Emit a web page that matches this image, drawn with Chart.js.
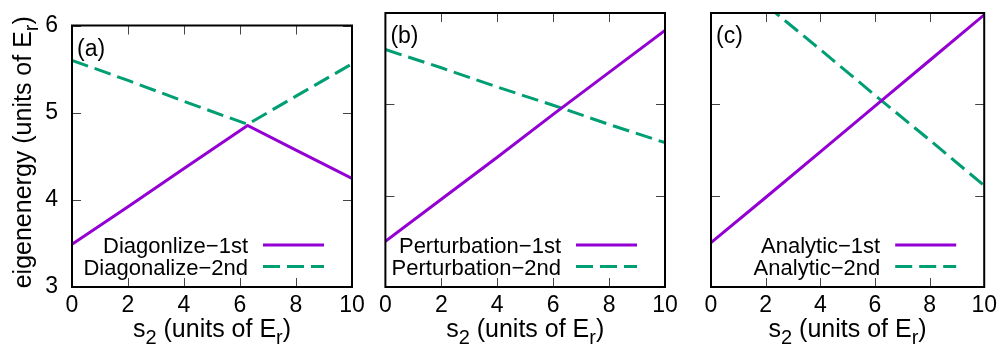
<!DOCTYPE html>
<html>
<head>
<meta charset="utf-8">
<script src="https://cdn.jsdelivr.net/npm/chart.js@4.4.1/dist/chart.umd.min.js"></script>
<style>
  html, body { margin: 0; padding: 0; background: #fff; }
  #wrap { position: relative; width: 1004px; height: 351px; overflow: hidden; }
  canvas { position: absolute; top: 0; }
</style>
</head>
<body>
<div id="wrap">
  <canvas id="panelA" width="372" height="351" style="left:0px"></canvas>
  <canvas id="panelB" width="314" height="351" style="left:372px"></canvas>
  <canvas id="panelC" width="314" height="351" style="left:690px"></canvas>
</div>
<script>
// three panels: diagonalization / perturbation / analytic eigenenergies vs s2

const FONT = "'Liberation Sans', Arial, sans-serif";
const purple = "#9400d3";
const green  = "#009e73";

// x values (s2, units of Er)
const s2Diag = [0, 2, 4, 6.27, 8, 10];
const s2Pert = [0, 2, 4, 6, 8, 10];
const s2Anal = [0, 2, 4, 6, 8, 10];

// eigenenergies (units of Er)
const diagFirst  = [3.49, 3.92, 4.36, 4.854, 4.57, 4.245];
const diagSecond = [5.60, 5.37, 5.13, 4.866, 5.19, 5.56];
const pertFirst  = [3.50, 3.96, 4.42, 4.89, 5.35, 5.81];
const pertSecond = [5.60, 5.40, 5.19, 4.99, 4.78, 4.58];
const analFirst  = [3.485, 3.98, 4.48, 4.98, 5.48, 5.98];
const analSecond = [6.59, 6.09, 5.60, 5.10, 4.61, 4.11];

const xTicks = [0, 2, 4, 6, 8, 10];
const yTicks = [3, 4, 5, 6];

const xTitle = [{ t: "s" }, { t: "2", sub: true }, { t: " (units of E" }, { t: "r", sub: true }, { t: ")" }];
const yTitle = [{ t: "eigenenergy (units of E" }, { t: "r", sub: true }, { t: ")" }];

function drawRich(ctx, parts, cx, baseY) {
  const main = `25px ${FONT}`, small = `20px ${FONT}`;
  const widths = parts.map(p => { ctx.font = p.sub ? small : main; return ctx.measureText(p.t).width; });
  const total = widths.reduce((a, b) => a + b, 0);
  let x = cx - total / 2;
  ctx.textAlign = "left";
  ctx.textBaseline = "alphabetic";
  parts.forEach((p, i) => {
    ctx.font = p.sub ? small : main;
    ctx.fillText(p.t, x, baseY + (p.sub ? 7 : 0));
    x += widths[i];
  });
}

// gnuplot-like frame: border box, inward ticks, panel tag, legend, axis titles
const gnuFrame = {
  id: "gnuFrame",
  afterDatasetsDraw(chart, args, opts) {
    const { ctx, chartArea: a, scales } = chart;
    ctx.save();
    ctx.fillStyle = "#000";

    // inward ticks on all four sides
    ctx.strokeStyle = "#444";
    ctx.lineWidth = 1;
    ctx.beginPath();
    xTicks.forEach(v => {
      const px = Math.round(scales.x.getPixelForValue(v)) + 0.5;
      ctx.moveTo(px, a.bottom); ctx.lineTo(px, a.bottom - 9);
      ctx.moveTo(px, a.top);    ctx.lineTo(px, a.top + 9);
    });
    yTicks.forEach(v => {
      const py = Math.round(scales.y.getPixelForValue(v)) + 0.5;
      ctx.moveTo(a.left, py);  ctx.lineTo(a.left + 9, py);
      ctx.moveTo(a.right, py); ctx.lineTo(a.right - 9, py);
    });
    ctx.stroke();

    // border
    ctx.strokeStyle = "#000";
    ctx.lineWidth = 2;
    ctx.strokeRect(a.left, a.top, a.right - a.left, a.bottom - a.top);

    // panel tag
    ctx.font = `23px ${FONT}`;
    ctx.textAlign = "left";
    ctx.textBaseline = "alphabetic";
    ctx.fillText(opts.tag, a.left + 5, a.top + 30);

    // legend: text right-aligned, sample line to the right
    ctx.font = `22px ${FONT}`;
    chart.data.datasets.forEach((ds, i) => {
      const y = a.bottom - 42 + i * 21.5;
      ctx.fillStyle = "#000";
      ctx.textAlign = "right";
      ctx.fillText(ds.label, a.right - 104, y + 8);
      ctx.strokeStyle = ds.borderColor;
      ctx.lineWidth = ds.borderWidth;
      ctx.setLineDash(ds.borderDash || []);
      ctx.beginPath();
      ctx.moveTo(a.right - 89, y);
      ctx.lineTo(a.right - 28, y);
      ctx.stroke();
      ctx.setLineDash([]);
    });

    // axis titles
    ctx.fillStyle = "#000";
    drawRich(ctx, xTitle, (a.left + a.right) / 2, 337);
    if (opts.yTitle) {
      ctx.translate(31, (a.top + a.bottom) / 2 - 4);
      ctx.rotate(-Math.PI / 2);
      drawRich(ctx, yTitle, 0, 0);
    }
    ctx.restore();
  }
};

function makePanel(id, p) {
  const line = (label, xs, ys, color, dash) => ({
    label,
    data: xs.map((x, i) => ({ x, y: ys[i] })),
    borderColor: color,
    borderWidth: 3,
    borderDash: dash,
    pointRadius: 0,
    tension: 0,
    clip: 0,
  });
  return new Chart(document.getElementById(id), {
    type: "line",
    data: {
      datasets: [
        line(p.labels[0], p.xs, p.first, purple, []),
        line(p.labels[1], p.xs, p.second, green, [17, 7]),
      ],
    },
    options: {
      responsive: false,
      animation: false,
      events: [],
      layout: { padding: { top: 13, right: p.padRight, left: 0, bottom: 0 } },
      plugins: {
        legend: { display: false },
        tooltip: { enabled: false },
        gnuFrame: { tag: p.tag, yTitle: p.showY },
      },
      scales: {
        x: {
          type: "linear",
          min: 0, max: 10,
          grid: { display: false, drawTicks: false },
          border: { display: false },
          ticks: {
            stepSize: 2, autoSkip: false, maxRotation: 0,
            color: "#000", padding: 7,
            font: { family: FONT, size: 23, lineHeight: 1 },
          },
          afterFit: s => { s.height = 64; },
        },
        y: {
          type: "linear",
          min: 3, max: 6,
          grid: { display: false, drawTicks: false },
          border: { display: false },
          ticks: {
            display: p.showY, stepSize: 1,
            color: "#000", padding: 14,
            font: { family: FONT, size: 23, lineHeight: 1 },
          },
          afterFit: s => { s.width = p.yWidth; },
        },
      },
    },
    plugins: [gnuFrame],
  });
}

makePanel("panelA", {
  tag: "(a)", xs: s2Diag, first: diagFirst, second: diagSecond,
  labels: ["Diagonlize\u22121st", "Diagonalize\u22122nd"],
  yWidth: 72, padRight: 20, showY: true,
});
makePanel("panelB", {
  tag: "(b)", xs: s2Pert, first: pertFirst, second: pertSecond,
  labels: ["Perturbation\u22121st", "Perturbation\u22122nd"],
  yWidth: 13, padRight: 21, showY: false,
});
makePanel("panelC", {
  tag: "(c)", xs: s2Anal, first: analFirst, second: analSecond,
  labels: ["Analytic\u22121st", "Analytic\u22122nd"],
  yWidth: 21, padRight: 13, showY: false,
});
</script>
</body>
</html>
